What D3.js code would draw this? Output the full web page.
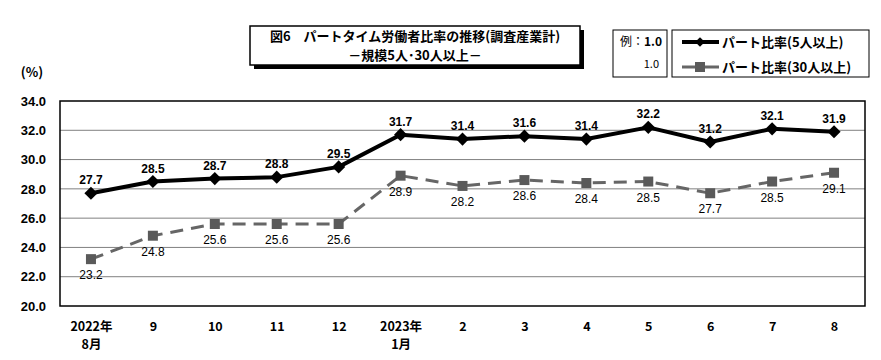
<!DOCTYPE html>
<html><head><meta charset="utf-8">
<script src="https://cdn.jsdelivr.net/npm/d3@7"></script>
<style>body{margin:0;background:#fff}svg{display:block}text{font-family:"Noto Sans CJK JP","Noto Sans",sans-serif}</style>
</head><body><svg id="c" width="881" height="360"></svg>
<script>
const categories = ["2022年\n8月","9","10","11","12","2023年\n1月","2","3","4","5","6","7","8"];
const part5 = [27.7,28.5,28.7,28.8,29.5,31.7,31.4,31.6,31.4,32.2,31.2,32.1,31.9];
const part30 = [23.2,24.8,25.6,25.6,25.6,28.9,28.2,28.6,28.4,28.5,27.7,28.5,29.1];
const yTicks = [20,22,24,26,28,30,32,34];
const seriesNames = ["パート比率(5人以上)","パート比率(30人以上)"];
const titleLines = ["図6　パートタイム労働者比率の推移(調査産業計)","－規模5人･30人以上－"];

const svg = d3.select("#c");
const L=60,R=865,T=101,B=306;
const x = d3.scalePoint().domain(d3.range(categories.length)).range([L,R]).padding(0.5);
const y = d3.scaleLinear().domain([20,34]).range([B,T]);

// gridlines
svg.append("g").selectAll("line").data(yTicks.filter(d=>d>20&&d<34)).join("line")
  .attr("x1",L).attr("x2",R).attr("y1",d=>y(d)).attr("y2",d=>y(d))
  .attr("stroke","#808080").attr("stroke-width",1);
svg.append("rect").attr("x",L).attr("y",T).attr("width",R-L).attr("height",B-T)
  .attr("fill","none").attr("stroke","#000").attr("stroke-width",1.5);

// y axis
const ya = svg.append("g").attr("transform",`translate(${L},0)`)
  .call(d3.axisLeft(y).tickValues(yTicks).tickFormat(d3.format(".1f")).tickSize(0).tickPadding(14));
ya.select(".domain").remove();
ya.selectAll("text").attr("font-size",13).attr("font-weight","bold").attr("fill","#000")
  .style("font-family","'Liberation Sans Narrow','Liberation Sans',sans-serif");
svg.append("text").attr("x",32).attr("y",77).attr("text-anchor","middle").attr("font-size",13).attr("font-weight","bold").text("(%)");

// x axis
const xa = svg.append("g").attr("transform",`translate(0,${B})`)
  .call(d3.axisBottom(x).tickSize(0).tickFormat(""));
xa.select(".domain").remove();
xa.selectAll(".tick").each(function(i){
  const lines = categories[i].split("\n");
  const t = d3.select(this).append("text").attr("fill","#000").attr("font-size",12.5).attr("font-weight","bold").attr("text-anchor","middle");
  lines.forEach((s,k)=>t.append("tspan").attr("x",0).attr("y",25+k*18).text(s));
});

// series 2 (30人以上)
const line = d3.line().x((d,i)=>x(i)).y(d=>y(d));
svg.append("path").datum(part30).attr("d",line).attr("fill","none")
  .attr("stroke","#666").attr("stroke-width",3).attr("stroke-dasharray","13,8");
svg.append("g").selectAll("rect").data(part30).join("rect")
  .attr("x",(d,i)=>x(i)-5).attr("y",d=>y(d)-5).attr("width",10).attr("height",10).attr("fill","#5a5a5a");
svg.append("g").selectAll("text").data(part30).join("text")
  .attr("x",(d,i)=>x(i)).attr("y",d=>y(d)+20).attr("text-anchor","middle").attr("font-size",12)
  .style("font-family","'Liberation Sans Narrow','Liberation Sans',sans-serif")
  .text(d=>d.toFixed(1));

// series 1 (5人以上)
svg.append("path").datum(part5).attr("d",line).attr("fill","none")
  .attr("stroke","#000").attr("stroke-width",4).attr("stroke-linejoin","round");
const diamond = d3.symbol().type(d3.symbolDiamond2).size(110);
svg.append("g").selectAll("path").data(part5).join("path")
  .attr("transform",(d,i)=>`translate(${x(i)},${y(d)})`).attr("d",diamond).attr("fill","#000");
svg.append("g").selectAll("text").data(part5).join("text")
  .attr("x",(d,i)=>x(i)).attr("y",d=>y(d)-9).attr("text-anchor","middle").attr("font-size",12).attr("font-weight","bold")
  .style("font-family","'Liberation Sans Narrow','Liberation Sans',sans-serif")
  .text(d=>d.toFixed(1));

// title box
svg.append("rect").attr("x",254).attr("y",30).attr("width",330).attr("height",39).attr("fill","#000");
svg.append("rect").attr("x",250).attr("y",26).attr("width",330).attr("height",39).attr("fill","#fff").attr("stroke","#000").attr("stroke-width",1.5);
titleLines.forEach((s,k)=>svg.append("text").attr("x",415).attr("y",41+k*19).attr("text-anchor","middle")
  .attr("font-size",13).attr("font-weight","bold").text(s));

// legend boxes
svg.append("rect").attr("x",613).attr("y",30).attr("width",54).attr("height",47).attr("fill","#fff").attr("stroke","#000");
svg.append("text").attr("x",620).attr("y",46).attr("font-size",12).text("例：").append("tspan").attr("font-weight","bold").text("1.0");
svg.append("text").attr("x",659).attr("y",68).attr("font-size",11).attr("text-anchor","end").text("1.0");
svg.append("rect").attr("x",672).attr("y",30).attr("width",197).attr("height",47).attr("fill","#fff").attr("stroke","#000");
const lg = [{y:42,c:"#000",w:4,sym:"d"},{y:67,c:"#666",w:3,sym:"s"}];
lg.forEach((g,k)=>{
  svg.append("line").attr("x1",682).attr("x2",719).attr("y1",g.y).attr("y2",g.y).attr("stroke",g.c).attr("stroke-width",g.w);
  if(g.sym==="d") svg.append("path").attr("transform",`translate(700,${g.y})`).attr("d",d3.symbol().type(d3.symbolDiamond2).size(60)).attr("fill","#000");
  else svg.append("rect").attr("x",695).attr("y",g.y-5).attr("width",10).attr("height",10).attr("fill","#5a5a5a");
  svg.append("text").attr("x",722).attr("y",g.y+5).attr("font-size",13).attr("font-weight","bold").text(seriesNames[k]);
});
</script></body></html>
